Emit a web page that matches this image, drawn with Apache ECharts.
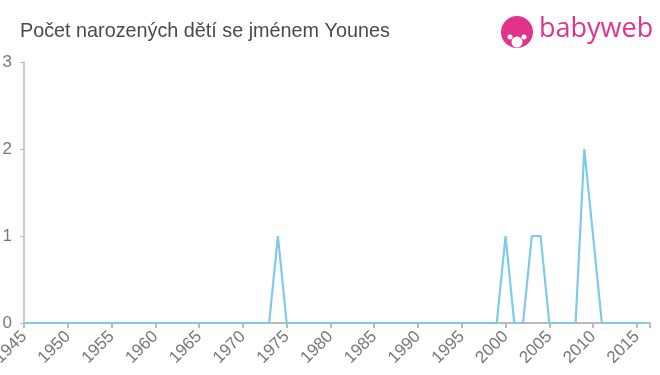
<!DOCTYPE html>
<html><head><meta charset="utf-8">
<script src="https://cdn.jsdelivr.net/npm/echarts@6/dist/echarts.min.js"></script>
<style>html,body{margin:0;padding:0;background:#fff}#c{width:660px;height:375px}</style>
</head><body><div id="c"></div>
<script>
const years = [1945,1946,1947,1948,1949,1950,1951,1952,1953,1954,1955,1956,1957,1958,1959,1960,1961,1962,1963,1964,1965,1966,1967,1968,1969,1970,1971,1972,1973,1974,1975,1976,1977,1978,1979,1980,1981,1982,1983,1984,1985,1986,1987,1988,1989,1990,1991,1992,1993,1994,1995,1996,1997,1998,1999,2000,2001,2002,2003,2004,2005,2006,2007,2008,2009,2010,2011,2012,2013,2014,2015,2016];
const counts = [0,0,0,0,0,0,0,0,0,0,0,0,0,0,0,0,0,0,0,0,0,0,0,0,0,0,0,0,0,1,0,0,0,0,0,0,0,0,0,0,0,0,0,0,0,0,0,0,0,0,0,0,0,0,0,1,0,0,1,1,0,0,0,0,2,1,0,0,0,0,0,0];
const yTicks = [0,1,2,3];
const title = 'Počet narozených dětí se jménem Younes';

const chart = echarts.init(document.getElementById('c'), null, {renderer:'canvas'});
chart.setOption({
  animation:false,
  title:{text:title,left:15,top:17,textStyle:{fontFamily:'Liberation Sans, Arial, sans-serif',fontSize:19.8,fontWeight:'normal',color:'#4a4a4a'}},
  grid:{left:24,right:10,top:62,bottom:52,containLabel:false,outerBoundsMode:'none'},
  xAxis:{type:'value',min:1945,max:2016.5,interval:5,
    axisLine:{show:true,lineStyle:{color:'#bbb',width:2}},
    axisTick:{show:true,length:5,lineStyle:{color:'#bbb',width:2}},
    splitLine:{show:false},
    axisLabel:{rotate:45,color:'#777',fontSize:17,fontFamily:'Liberation Sans, Arial, sans-serif',margin:11,
      formatter:function(v){return v%5===0?String(v):'';}}
  },
  yAxis:{type:'value',min:0,max:3,interval:1,
    axisLine:{show:true,lineStyle:{color:'#bbb',width:1.5}},
    axisTick:{show:true,length:4,lineStyle:{color:'#bbb'}},
    splitLine:{show:false},
    axisLabel:{color:'#777',fontSize:17,fontFamily:'Liberation Sans, Arial, sans-serif',margin:12}
  },
  series:[{type:'line',data:years.map((y,i)=>[y,counts[i]]),showSymbol:false,symbol:'none',
    lineStyle:{color:'#7dcbe8',width:2.2}}],
  graphic:[
    {type:'circle',shape:{cx:517,cy:32,r:16},style:{fill:'#e2338a'}},
    {type:'circle',shape:{cx:517,cy:42,r:5.5},style:{fill:'#fff'}},
    {type:'circle',shape:{cx:510,cy:37,r:2.5},style:{fill:'#fff'}},
    {type:'circle',shape:{cx:524,cy:37,r:2.5},style:{fill:'#fff'}},
    {type:'text',left:539,top:16,style:{text:'babyweb',fill:'#e2338a',font:'500 27px "Open Sans", Lato, sans-serif'}}
  ]
});
</script></body></html>
